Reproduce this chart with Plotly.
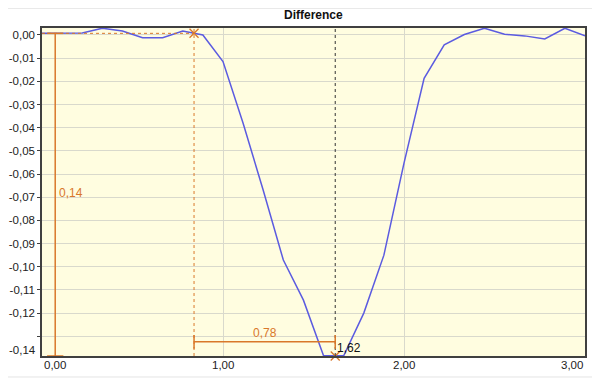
import plotly.graph_objects as go

# ---- data ----
x_vals = [i / 9 for i in range(28)]
diff_vals = [0.0007, 0.0006, 0.0008, 0.0029, 0.0017, -0.0012, -0.0012, 0.0017,
             0.0000, -0.0115, -0.0381, -0.0670, -0.0971, -0.1144, -0.1384, -0.1384,
             -0.1200, -0.0950, -0.0553, -0.0187, -0.0043, 0.0002, 0.0029, 0.0003,
             -0.0004, -0.0017, 0.0029, -0.0004]
y_tick_vals = [0.0, -0.01, -0.02, -0.03, -0.04, -0.05, -0.06, -0.07, -0.08, -0.09,
               -0.10, -0.11, -0.12, -0.13]
y_tick_text = ["0,00", "-0,01", "-0,02", "-0,03", "-0,04", "-0,05", "-0,06", "-0,07",
               "-0,08", "-0,09", "-0,10", "-0,11", "-0,12", ""]
x_tick_vals = [0.0, 1.0, 2.0, 3.0]
x_tick_text = ["0,00", "1,00", "2,00", "3,00"]
cursor_a = 0.84
cursor_b = 1.62
delta_x_label = "0,78"
delta_y_label = "0,14"
cursor_b_label = "1,62"
y_min_label = "-0,14"

Y_MIN, Y_MAX = -0.1385, 0.003
X_MIN, X_MAX = 0.0, 3.0
ORANGE = "#D9782A"
BLUE = "#5B5BE0"
FONT = "Liberation Sans"

fig = go.Figure()

# main line
fig.add_trace(go.Scatter(x=x_vals, y=diff_vals, mode="lines",
                         line=dict(color=BLUE, width=1.5), hoverinfo="skip",
                         showlegend=False))

# cursor crosses
fig.add_trace(go.Scatter(x=[cursor_a, cursor_b], y=[0.0007, Y_MIN], mode="markers",
                         marker=dict(symbol="x-thin", size=9,
                                     line=dict(color=ORANGE, width=1.3)),
                         cliponaxis=False, hoverinfo="skip", showlegend=False))

shapes = []
# cursor vertical lines
shapes.append(dict(type="line", xref="x", yref="paper", x0=cursor_a, x1=cursor_a,
                   y0=0, y1=1, line=dict(color=ORANGE, width=1, dash="dot")))
shapes.append(dict(type="line", xref="x", yref="paper", x0=cursor_b, x1=cursor_b,
                   y0=0, y1=1, line=dict(color="#333333", width=1, dash="dot")))
# horizontal dotted reference at cursor A level
shapes.append(dict(type="line", xref="x", yref="y", x0=X_MIN, x1=cursor_a,
                   y0=0.0007, y1=0.0007, line=dict(color=ORANGE, width=1, dash="dot")))
# vertical measurement (delta y)
mx = 0.073
shapes.append(dict(type="line", xref="x", yref="y", x0=mx, x1=mx,
                   y0=0.0007, y1=Y_MIN, line=dict(color=ORANGE, width=1.5)))
shapes.append(dict(type="line", xref="x", yref="y", x0=mx - 0.045, x1=mx + 0.045,
                   y0=0.0007, y1=0.0007, line=dict(color=ORANGE, width=1.5)))
shapes.append(dict(type="line", xref="x", yref="y", x0=mx - 0.045, x1=mx + 0.045,
                   y0=Y_MIN, y1=Y_MIN, line=dict(color=ORANGE, width=1.5)))
# horizontal measurement (delta x)
my = -0.1324
shapes.append(dict(type="line", xref="x", yref="y", x0=cursor_a, x1=cursor_b,
                   y0=my, y1=my, line=dict(color=ORANGE, width=1.5)))
shapes.append(dict(type="line", xref="x", yref="y", x0=cursor_a, x1=cursor_a,
                   y0=my + 0.003, y1=my - 0.003, line=dict(color=ORANGE, width=1.5)))
shapes.append(dict(type="line", xref="x", yref="y", x0=cursor_b, x1=cursor_b,
                   y0=my + 0.003, y1=my - 0.003, line=dict(color=ORANGE, width=1.5)))
# outer frame
shapes.append(dict(type="rect", xref="paper", yref="paper", x0=-0.075, x1=1.024,
                   y0=-0.064, y1=1.06, line=dict(color="#E4E4E4", width=1)))

annotations = []
annotations.append(dict(text="<b>Difference</b>", xref="paper", yref="paper",
                        x=0.5, y=1.0, yanchor="middle", yshift=13, showarrow=False,
                        font=dict(family=FONT, size=12, color="#111111")))
annotations.append(dict(text=delta_y_label, xref="x", yref="y", x=mx, y=-0.068,
                        xanchor="left", xshift=2, showarrow=False,
                        font=dict(family=FONT, size=12, color=ORANGE)))
annotations.append(dict(text=delta_x_label, xref="x", yref="y",
                        x=(cursor_a + cursor_b) / 2, y=my, yanchor="bottom",
                        showarrow=False,
                        font=dict(family=FONT, size=12, color=ORANGE)))
annotations.append(dict(text=cursor_b_label, xref="x", yref="y", x=cursor_b,
                        y=Y_MIN, xanchor="left", yanchor="bottom", yshift=-1,
                        showarrow=False,
                        font=dict(family=FONT, size=12, color="#111111")))
annotations.append(dict(text=y_min_label, xref="paper", yref="y", x=0, y=Y_MIN,
                        xanchor="right", yanchor="bottom", xshift=-4, yshift=-2,
                        showarrow=False,
                        font=dict(family=FONT, size=11.5, color="#222222")))
anchors = ["left", "center", "center", "right"]
for v, t, a in zip(x_tick_vals, x_tick_text, anchors):
    annotations.append(dict(text=t, xref="x", yref="paper", x=v, y=0,
                            xanchor=a, yanchor="top", yshift=-1, showarrow=False,
                            font=dict(family=FONT, size=11.5, color="#222222")))

# page body has an 8px default margin, so margins are offset to compensate
fig.update_layout(
    width=600, height=380,
    margin=dict(l=34, r=23, t=20, b=32),
    paper_bgcolor="white",
    plot_bgcolor="#FFFDE0",
    shapes=shapes,
    annotations=annotations,
    xaxis=dict(range=[X_MIN, X_MAX], tickvals=[1.0, 2.0], showticklabels=False,
               showgrid=True, gridcolor="#D9D9CC", gridwidth=1, zeroline=False,
               showline=True, linecolor="#404040", linewidth=1.5, mirror=True,
               ticks="", automargin=False),
    yaxis=dict(range=[Y_MIN, Y_MAX], tickvals=y_tick_vals, ticktext=y_tick_text,
               showgrid=True, gridcolor="#D9D9CC", gridwidth=1, zeroline=False,
               showline=True, linecolor="#404040", linewidth=1.5, mirror=True,
               ticks="outside", ticklen=3, tickcolor="#404040", automargin=False,
               tickfont=dict(family=FONT, size=11.5, color="#222222")),
    font=dict(family=FONT),
)

fig.write_html("out.html")
